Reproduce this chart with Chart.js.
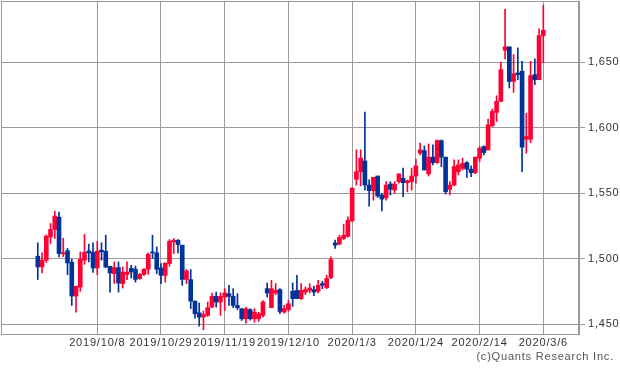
<!DOCTYPE html>
<html>
<head>
<meta charset="utf-8">
<script src="https://cdn.jsdelivr.net/npm/chart.js@4"></script>
<style>
  html, body { margin: 0; padding: 0; background: #fff; }
  #mycanvas { display: block; }
</style>
</head>
<body>
<canvas id="mycanvas" width="620" height="372"></canvas>
<script>
// daily candles, index 0 .. 119 (oldest first)
var opens = [1501.8,1493.6,1498.7,1516.5,1522.2,1531.6,1503.5,1506,1497.2,1471.4,
  1478.2,1498.7,1505.8,1504.8,1492.8,1506.4,1505.6,1494.1,1488.5,1493.1,
  1480.9,1487.8,1492.6,1491.8,1484.7,1487.8,1491.8,1505,1504.3,1492.8,
  1487.2,1496.2,1512.7,1514,1510.2,1484,1483.9,1467.5,1458.6,1455.3,
  1456.6,1463,1471.1,1466.8,1470.6,1473.2,1471.1,1464.2,1461.7,1454,
  1461,1454,1454,1456.6,1477,1462.5,1473.7,1476.3,1459.1,1461,
  1475,1475.7,1469.4,1474.4,1475.7,1476.3,1475,1480.9,1477.8,1485.4,
  1511.9,1510.9,1515.3,1517,1528.8,1560.5,1566.3,1574.5,1556.1,1551.8,
  1563,1548.5,1546.4,1556.9,1552.3,1558.7,1561.3,1557.9,1558.7,1563,
  1580.4,1582.4,1564.6,1577.4,1573.2,1590,1577.4,1552.8,1556.1,1566.3,
  1568.9,1573.2,1568.2,1565.5,1576.6,1585.5,1582.9,1601.3,1611.5,1619.9,
  1659,1661.6,1635.2,1641.7,1643,1591.1,1591.1,1640.4,1636.5,1670.2];
var highs = [1512,1504.3,1518,1526.8,1536.2,1535.5,1515.5,1507.7,1499.5,1479,
  1505,1518.6,1511,1512,1513,1512,1517.8,1494.1,1497.4,1497.4,
  1493.6,1497.4,1494.9,1494.3,1488.7,1492.3,1504.3,1517.8,1508.9,1496.2,
  1496.6,1514.5,1515.3,1514.5,1510.2,1491.6,1491.6,1467.5,1466,1459.9,
  1466.8,1473.7,1474.4,1473.7,1477,1479.6,1477,1473.2,1461.7,1462.9,
  1461.7,1461.7,1459,1468,1481.3,1483.4,1480.9,1477,1464.2,1468,
  1481.3,1487.2,1480.9,1478.3,1480.9,1478.9,1483.4,1482.6,1487.2,1501.3,
  1514,1517.8,1526.2,1531.8,1554.4,1583,1583,1611.8,1560,1562,
  1563,1549.8,1558.7,1558.7,1558.7,1564.6,1569,1560,1569,1575.8,
  1588.1,1586,1587.5,1586.8,1590.6,1590.6,1577.4,1558.7,1575.3,1575.3,
  1576.6,1574,1570.7,1577.4,1585.5,1586,1606.4,1614.1,1624.3,1649.8,
  1690.2,1661.6,1655.7,1660.8,1650.6,1611,1650.6,1652.4,1675.4,1693.2];
var lows = [1484,1489,1497,1511.5,1515.3,1501.2,1501.5,1487.7,1464.2,1459.1,
  1475,1495.6,1497.4,1489.5,1487.7,1498.7,1493,1474.4,1480.9,1474.4,
  1477.5,1483.9,1485.1,1482,1484.1,1487.2,1488,1500,1488.5,1480.9,
  1482,1494.1,1503.8,1504.3,1479.5,1480.9,1461.7,1454.5,1448.4,1445.6,
  1455.8,1462.5,1462.9,1456.6,1460.4,1464.2,1462.5,1461,1452.7,1450.7,
  1453,1451.4,1452,1455.3,1470.6,1462.5,1472.4,1457.9,1458.3,1459.9,
  1463.5,1469.4,1468.7,1472.4,1473.7,1471.7,1473.7,1476.9,1477,1484.7,
  1507.7,1510.5,1514.5,1516.3,1528,1556.1,1555.4,1552.3,1540,1544.6,
  1546.7,1536.4,1544.6,1548.5,1549.8,1557.5,1547.2,1551,1552.3,1557.5,
  1579.1,1567.6,1563,1571.5,1572.7,1570.2,1549.2,1548.5,1555.4,1563.8,
  1567.6,1562,1562.5,1564.8,1574,1579.1,1582.9,1600.8,1604.6,1619.9,
  1652.4,1630.2,1626.8,1636.5,1566.3,1580.4,1588.5,1632.7,1636.5,1649.4];
var closes = [1493.6,1498.7,1517.1,1522.2,1532.4,1503.8,1504.5,1496.6,1471.4,1478.8,
  1499.5,1504.8,1504.3,1492.8,1505.6,1505.1,1493.6,1489,1493.1,1481.3,
  1489.7,1489.7,1489.7,1484.1,1488,1491.8,1503.3,1504.3,1491.8,1487.2,
  1496.6,1513.2,1514,1510.7,1484.1,1490.5,1467.5,1457.9,1455.3,1457.4,
  1462.5,1471.1,1466.8,1471.1,1473.7,1471.1,1464.2,1462.5,1454,1461.7,
  1454,1459.1,1457.8,1466.8,1473.7,1477,1475.7,1459.6,1461.7,1465.5,
  1469.4,1469.4,1475.7,1476.3,1477.5,1474.4,1479.6,1479.6,1484.7,1499.2,
  1510.2,1516.1,1517.8,1529.3,1553.6,1566.3,1576.6,1556.1,1551.8,1562,
  1547.7,1545.4,1556.1,1552.8,1556.9,1564.6,1557.9,1559.4,1563,1570.7,
  1583,1567.6,1577.4,1573.2,1590,1577.4,1551,1556.1,1570.2,1571.5,
  1572.7,1568.2,1565.5,1577.4,1584.2,1580.9,1602.1,1612.3,1619.9,1644.2,
  1661.6,1635.2,1641.1,1640.4,1585,1593.1,1639.6,1636.5,1670.2,1674.3];

var tickIdx = [14, 29, 44, 59, 74, 89, 104, 119];
var tickLabels = ['2019/10/8', '2019/10/29', '2019/11/19', '2019/12/10',
  '2020/1/3', '2020/1/24', '2020/2/14', '2020/3/6'];
var priceTicks = [1450, 1500, 1550, 1600, 1650];

var upColor = '#ff0033';
var downColor = '#003399';
var gridColor = '#9a9a9a';
var fontSpec = { family: '"Liberation Sans", Arial, sans-serif', size: 11 };

var bodies = [];
var wicks = [];
var colors = [];
for (var i = 0; i < opens.length; i++) {
  bodies.push({ x: i, y: [opens[i], closes[i]] });
  wicks.push({ x: i, y: [lows[i], highs[i]] });
  colors.push(closes[i] >= opens[i] ? upColor : downColor);
}

var frame = {
  id: 'frame',
  beforeDraw: function(chart) {
    chart.ctx.letterSpacing = '0.8px';
  },
  beforeDatasetsDraw: function(chart) {
    var a = chart.chartArea, ctx = chart.ctx;
    ctx.save();
    ctx.strokeStyle = gridColor;
    ctx.lineWidth = 1;
    ctx.strokeRect(a.left + 0.5, a.top + 0.5, a.right - a.left - 1, a.bottom - a.top);
    ctx.restore();
  },
  afterDraw: function(chart) {
    var ctx = chart.ctx;
    ctx.save();
    ctx.font = '11px "Liberation Sans", Arial, sans-serif';
    ctx.fillStyle = '#555';
    ctx.textAlign = 'right';
    ctx.textBaseline = 'middle';
    ctx.fillText('(c)Quants Research Inc.', 614, 357);
    ctx.restore();
  }
};

var ctx = document.getElementById('mycanvas');

var candleChart = new Chart(ctx, {
  type: 'bar',
  data: {
    datasets: [
      {
        label: 'body',
        data: bodies,
        backgroundColor: colors,
        barThickness: 4,
        minBarLength: 1,
        grouped: false,
        order: 0
      },
      {
        label: 'wick',
        data: wicks,
        backgroundColor: colors,
        barThickness: 1,
        grouped: false,
        order: 1
      }
    ]
  },
  options: {
    responsive: false,
    animation: false,
    devicePixelRatio: 1,
    layout: { padding: { left: 1, top: 1, right: 0, bottom: 22 } },
    plugins: {
      legend: { display: false },
      tooltip: { enabled: false }
    },
    scales: {
      x: {
        type: 'linear',
        min: -8.66,
        max: 127.4,
        offset: false,
        grid: { offset: false, color: gridColor, drawTicks: false },
        border: { color: gridColor },
        afterBuildTicks: function(scale) {
          scale.ticks = tickIdx.map(function(v) { return { value: v }; });
        },
        afterFit: function(scale) {
          scale.height = 16;
          scale.paddingLeft = 0;
          scale.paddingRight = 0;
        },
        ticks: {
          autoSkip: false,
          maxRotation: 0,
          padding: 2,
          color: '#333',
          font: fontSpec,
          callback: function(v) { return tickLabels[tickIdx.indexOf(v)]; }
        }
      },
      y: {
        position: 'right',
        min: 1442.4,
        max: 1696.6,
        grid: { color: gridColor, tickLength: 6 },
        border: { color: gridColor },
        afterBuildTicks: function(scale) {
          scale.ticks = priceTicks.map(function(v) { return { value: v }; });
        },
        afterFit: function(scale) {
          scale.width = 41;
          scale.paddingTop = 0;
          scale.paddingBottom = 0;
        },
        ticks: {
          padding: 3,
          color: '#333',
          font: fontSpec,
          callback: function(v) { return v.toLocaleString('en-US'); }
        }
      }
    }
  },
  plugins: [frame]
});
</script>
</body>
</html>
